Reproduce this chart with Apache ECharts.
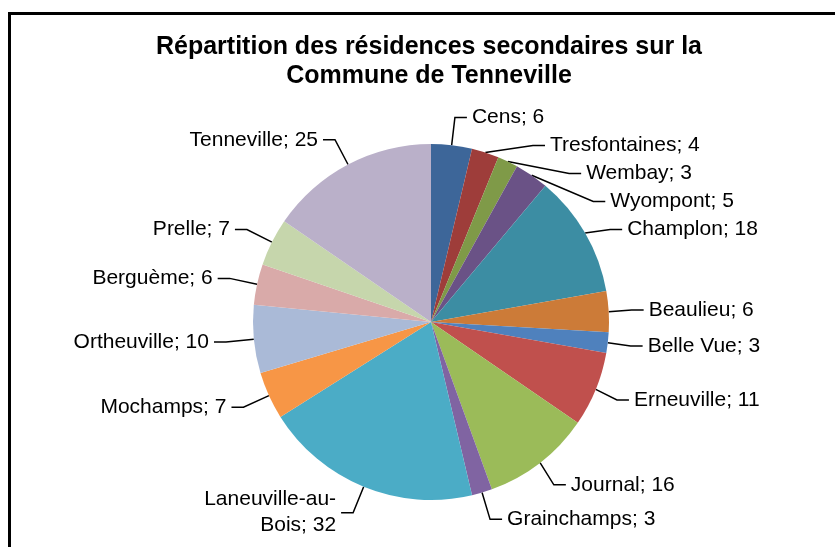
<!DOCTYPE html>
<html lang="fr">
<head>
  <meta charset="UTF-8">
  <title>Résidences secondaires - Tenneville</title>
  <style>
    html, body { margin: 0; padding: 0; background: #fff; }
  </style>
  <script src="https://cdn.jsdelivr.net/npm/echarts@6/dist/echarts.min.js"></script>
</head>
<body>
<div id="chart" style="width: 835px; height: 547px;"></div>
<script>
  // données
  const villages = ['Cens', 'Tresfontaines', 'Wembay', 'Wyompont', 'Champlon', 'Beaulieu', 'Belle Vue', 'Erneuville',
    'Journal', 'Grainchamps', 'Laneuville-au-Bois', 'Mochamps', 'Ortheuville', 'Berguème', 'Prelle', 'Tenneville']
  const residences = [6, 4, 3, 5, 18, 6, 3, 11, 16, 3, 32, 7, 10, 6, 7, 25]
  const colors = ['#3d6699', '#9e3d3a', '#7f9a48', '#6a5286', '#3c8da3', '#cc7b38', '#4f81bd', '#c0504d',
    '#9bbb59', '#8064a2', '#4bacc6', '#f79646', '#aabad7', '#d9aaa9', '#c6d6ac', '#bab0c9']

  const chart = echarts.init(document.getElementById('chart'))
  const option = {
    animation: false,
    color: colors,
    title: {
      text: 'Répartition des résidences secondaires sur la\nCommune de Tenneville',
      left: 424,
      textAlign: 'center',
      top: 28,
      textStyle: {
        fontFamily: 'Liberation Sans',
        fontSize: 25,
        fontWeight: 'bold',
        color: '#000',
        lineHeight: 29
      }
    },
    graphic: [{
      type: 'rect',
      shape: { x: 9.5, y: 13.5, width: 900, height: 600 },
      style: { fill: 'none', stroke: '#000', lineWidth: 3 }
    }],
    series: [{
      type: 'pie',
      center: [431, 322],
      radius: 178,
      startAngle: 90,
      clockwise: true,
      data: villages.map((v, i) => ({ name: v, value: residences[i] })),
      label: {
        show: true,
        color: '#000',
        fontFamily: 'Liberation Sans',
        fontSize: 21,
        lineHeight: 26,
        formatter: p => p.name.replace('au-', 'au-\n') + '; ' + p.value
      },
      labelLine: {
        show: true,
        length: 28,
        length2: 12,
        lineStyle: { color: '#000', width: 1.5 }
      },
      itemStyle: { borderWidth: 0 }
    }]
  }
  chart.setOption(option)
</script>
</body>
</html>
